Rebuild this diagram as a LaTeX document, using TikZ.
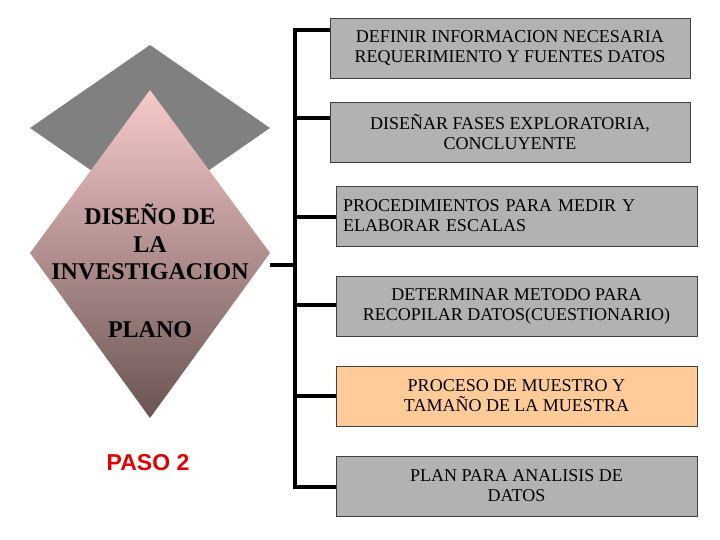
\documentclass[tikz,border=0pt]{standalone}
\usepackage{fontspec}
\setmainfont{Liberation Serif}
\newfontfamily\pasofont{Liberation Sans}
\usetikzlibrary{calc}
\definecolor{boxgray}{HTML}{B2B2B2}
\definecolor{peach}{HTML}{FFCC99}
\definecolor{dgray}{HTML}{808080}
\definecolor{pinktop}{HTML}{F8CACA}
\definecolor{pinkmid}{HTML}{C9A3A3}
\definecolor{pinkbot}{HTML}{6A5454}
\definecolor{pasored}{HTML}{E00000}
\begin{document}
\begin{tikzpicture}[x=1pt,y=-1pt,
  box/.style={draw=black!75, line width=0.8pt, fill=boxgray, minimum width=360pt,
    minimum height=60pt, inner sep=0pt, align=center,
    font=\fontsize{18}{20}\selectfont},
  lbox/.style={box, minimum width=361pt, text width=347pt, inner xsep=7pt, align=left},
  bus/.style={line width=4pt},
  dtext/.style={font=\fontsize{24}{27.5}\selectfont\bfseries, align=center, inner sep=0pt}]
\useasboundingbox (0,0) rectangle (720,540);
% diamonds
\fill[dgray] (150,45) -- (270,128) -- (150,211) -- (30,128) -- cycle;
\shade[top color=pinktop, middle color=pinkmid, bottom color=pinkbot]
  (150,90) -- (270,253) -- (150,418) -- (30,253) -- cycle;
\node[dtext] (dtitle) at (150,242) {DISEÑO DE\\LA\\INVESTIGACION};
\node[dtext] (plano) at (150,330) {PLANO};
\node[font=\pasofont\bfseries\fontsize{23}{26}\selectfont, text=pasored] (paso) at (148,463) {PASO 2};
% boxes
\node[box] (b1) at (510,48) {DEFINIR INFORMACION NECESARIA\\REQUERIMIENTO Y FUENTES DATOS};
\node[box] (b2) at (510,132) {DISEÑAR FASES EXPLORATORIA,\\CONCLUYENTE};
\node[lbox] (b3) at (516.5,216) {PROCEDIMIENTOS PARA MEDIR Y\\ELABORAR ESCALAS};
\node[box, minimum width=361pt] (b4) at (516.5,306) {DETERMINAR METODO PARA\\RECOPILAR DATOS(CUESTIONARIO)};
\node[box, minimum width=361pt, fill=peach] (b5) at (516.5,396) {PROCESO DE MUESTRO Y\\TAMAÑO DE LA MUESTRA};
\node[box, minimum width=361pt] (b6) at (516.5,486) {PLAN PARA ANALISIS DE\\DATOS};
% connectors
\coordinate (dr) at (270,265);
\coordinate (jm) at (295,265);
\coordinate (j1) at (295,30);
\coordinate (j2) at (295,118);
\coordinate (j3) at (295,217);
\coordinate (j4) at (295,305);
\coordinate (j5) at (295,396);
\coordinate (j6) at (295,487);
\draw[bus] (j1 -| b1.west) -- (j1) -- (j6) -- (j6 -| b6.west);
\draw[bus] (j2) -- (j2 -| b2.west);
\draw[bus] (j3) -- (j3 -| b3.west);
\draw[bus] (j4) -- (j4 -| b4.west);
\draw[bus] (j5) -- (j5 -| b5.west);
\draw[bus] (dr) -- (jm);
\end{tikzpicture}
\end{document}
